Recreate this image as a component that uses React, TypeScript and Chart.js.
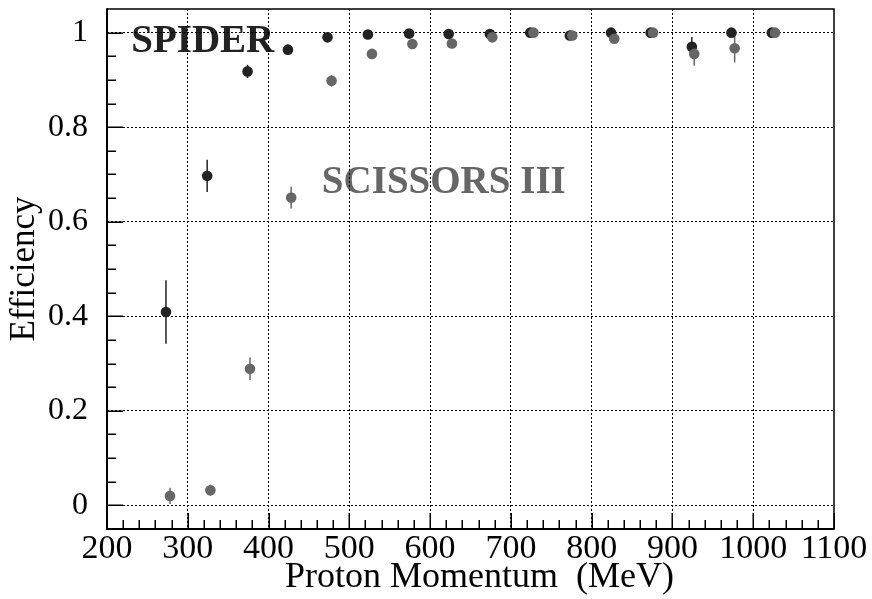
import React, { useEffect, useRef } from "react";
import { Chart, registerables } from "chart.js";

Chart.register(...registerables);

// Track-finding efficiency versus proton momentum for two reconstruction algorithms.
const SPIDER_MOMENTUM = [273, 324, 374, 424, 473, 523, 574, 623, 674, 724, 773, 824, 873, 924, 973, 1023];
const SPIDER_EFF = [0.409, 0.697, 0.918, 0.964, 0.99, 0.996, 0.998, 0.997, 0.997, 1.0, 0.994, 1.0, 1.0, 0.97, 1.0, 1.0];
const SPIDER_ERR = [0.067, 0.034, 0.014, 0.004, 0.004, 0.003, 0.002, 0.002, 0.002, 0.0, 0.003, 0.0, 0.0, 0.021, 0.0, 0.0];

const SCISSORS_MOMENTUM = [278, 328, 377, 428, 478, 528, 578, 627, 677, 728, 776, 828, 876, 927, 977, 1027];
const SCISSORS_EFF = [0.02, 0.032, 0.289, 0.651, 0.898, 0.955, 0.976, 0.977, 0.99, 1.0, 0.994, 0.987, 1.0, 0.955, 0.967, 1.0];
const SCISSORS_ERR = [0.017, 0.012, 0.024, 0.023, 0.012, 0.006, 0.004, 0.004, 0.003, 0.0, 0.003, 0.005, 0.0, 0.025, 0.03, 0.0];

const X_TICKS = [200, 300, 400, 500, 600, 700, 800, 900, 1000, 1100];
const Y_TICKS = [0, 0.2, 0.4, 0.6, 0.8, 1];
const X_MINOR_STEP = 20;
const Y_MINOR_STEP = 0.05;
const X_MIN = 200;
const X_MAX = 1100;
const Y_MIN = -0.05;
const Y_MAX = 1.05;

const SERIES_NAMES = ["SPIDER", "SCISSORS III"];
// Text anchors in data coordinates (left edge, baseline).
const LABEL_X = [230, 466];
const LABEL_Y = [0.958, 0.66];

const DARK = "#222222";
const GRAY = "#666666";
const SERIF = "'Liberation Serif', 'Times New Roman', Times, serif";

const seriesText = {
  id: "seriesText",
  beforeDraw(chart: any) {
    const { ctx, scales } = chart;
    const colors = [DARK, GRAY];
    ctx.save();
    ctx.font = `bold 39px ${SERIF}`;
    ctx.textAlign = "left";
    ctx.textBaseline = "alphabetic";
    SERIES_NAMES.forEach((name, i) => {
      ctx.fillStyle = colors[i];
      ctx.fillText(name, scales.x.getPixelForValue(LABEL_X[i]), scales.y.getPixelForValue(LABEL_Y[i]));
    });
    ctx.restore();
  },
};

const errorBars = {
  id: "errorBars",
  beforeDatasetsDraw(chart: any) {
    const { ctx, scales } = chart;
    const sets = [
      { xs: SPIDER_MOMENTUM, ys: SPIDER_EFF, es: SPIDER_ERR, color: DARK },
      { xs: SCISSORS_MOMENTUM, ys: SCISSORS_EFF, es: SCISSORS_ERR, color: GRAY },
    ];
    ctx.save();
    ctx.lineWidth = 1.5;
    sets.forEach((s) => {
      ctx.strokeStyle = s.color;
      s.xs.forEach((x, i) => {
        if (!s.es[i]) return;
        const px = scales.x.getPixelForValue(x);
        ctx.beginPath();
        ctx.moveTo(px, scales.y.getPixelForValue(s.ys[i] - s.es[i]));
        ctx.lineTo(px, scales.y.getPixelForValue(s.ys[i] + s.es[i]));
        ctx.stroke();
      });
    });
    ctx.restore();
  },
};

const frameAndTicks = {
  id: "frameAndTicks",
  afterDraw(chart: any) {
    const { ctx, chartArea: a, scales } = chart;
    const { left, right, top, bottom } = a;
    ctx.save();
    ctx.strokeStyle = "#000";
    ctx.lineWidth = 1.5;
    ctx.beginPath();
    ctx.moveTo(left, top);
    ctx.lineTo(right, top);
    ctx.lineTo(right, bottom);
    ctx.stroke();
    ctx.lineWidth = 2;
    ctx.beginPath();
    ctx.moveTo(left, top - 0.75);
    ctx.lineTo(left, bottom);
    ctx.lineTo(right + 0.75, bottom);
    ctx.stroke();

    ctx.lineWidth = 1.5;
    ctx.beginPath();
    for (let v = X_MIN; v <= X_MAX + 1e-6; v += X_MINOR_STEP) {
      const major = X_TICKS.some((t) => Math.abs(t - v) < 1e-6);
      const px = Math.round(scales.x.getPixelForValue(v)) + 0.25;
      ctx.moveTo(px, bottom);
      ctx.lineTo(px, bottom - (major ? 16 : 9));
    }
    for (let k = 1; Y_MIN + k * Y_MINOR_STEP < Y_MAX - 1e-6; k++) {
      const v = Y_MIN + k * Y_MINOR_STEP;
      const major = Y_TICKS.some((t) => Math.abs(t - v) < 1e-6);
      const py = Math.round(scales.y.getPixelForValue(v)) + 0.25;
      ctx.moveTo(left, py);
      ctx.lineTo(left + (major ? 16 : 9), py);
    }
    ctx.stroke();
    ctx.restore();
  },
};

export default function App() {
  const canvasRef = useRef<HTMLCanvasElement | null>(null);

  useEffect(() => {
    if (!canvasRef.current) return;
    const toPoints = (xs: number[], ys: number[]) => xs.map((x, i) => ({ x, y: ys[i] }));
    const gridColor = (edgeValues: number[]) => (c: any) =>
      c.tick && edgeValues.some((v) => Math.abs(v - c.tick.value) < 1e-6) ? "rgba(0,0,0,0)" : "#000";
    // Fixed axis sizes so the plot frame lands at the same place regardless of label sizes.
    const fixSize = (size: { width?: number; height?: number }) => (scale: any) => {
      if (size.width !== undefined) scale.width = size.width;
      if (size.height !== undefined) scale.height = size.height;
      scale.paddingTop = 0;
      scale.paddingBottom = 0;
      scale.paddingLeft = 0;
      scale.paddingRight = 0;
    };

    const chart = new Chart(canvasRef.current, {
      type: "scatter",
      data: {
        datasets: [
          {
            label: SERIES_NAMES[0],
            data: toPoints(SPIDER_MOMENTUM, SPIDER_EFF),
            backgroundColor: DARK,
            borderColor: DARK,
            borderWidth: 0,
            pointRadius: 5.3,
            pointHoverRadius: 5.3,
            order: 1,
          },
          {
            label: SERIES_NAMES[1],
            data: toPoints(SCISSORS_MOMENTUM, SCISSORS_EFF),
            backgroundColor: GRAY,
            borderColor: GRAY,
            borderWidth: 0,
            pointRadius: 5.3,
            pointHoverRadius: 5.3,
            order: 0,
          },
        ],
      },
      options: {
        responsive: false,
        animation: false,
        events: [],
        layout: { padding: { left: 0, top: 9, right: 38, bottom: 0 } },
        plugins: {
          legend: { display: false },
          tooltip: { enabled: false },
        },
        scales: {
          x: {
            type: "linear",
            min: X_MIN,
            max: X_MAX,
            afterBuildTicks: (scale: any) => {
              scale.ticks = X_TICKS.map((value) => ({ value }));
            },
            afterFit: fixSize({ height: 70 }),
            ticks: {
              color: "#000",
              padding: 0,
              maxRotation: 0,
              autoSkip: false,
              font: { family: SERIF, size: 34 },
              callback: (v: any) => String(v),
            },
            grid: {
              color: gridColor([X_MIN, X_MAX]),
              lineWidth: 1,
              drawTicks: false,
              borderDash: [2, 2],
            } as any,
            border: { display: false, dash: [2, 2] } as any,
            title: {
              display: true,
              text: "\u2002Proton Momentum  (MeV)",
              color: "#000",
              font: { family: SERIF, size: 36 },
              padding: { top: 0, bottom: 0 },
            },
          },
          y: {
            type: "linear",
            min: Y_MIN,
            max: Y_MAX,
            afterBuildTicks: (scale: any) => {
              scale.ticks = Y_TICKS.map((value) => ({ value }));
            },
            afterFit: fixSize({ width: 107 }),
            ticks: {
              color: "#000",
              padding: 19,
              autoSkip: false,
              font: { family: SERIF, size: 32 },
              callback: (v: any) => String(Math.round(Number(v) * 10) / 10),
            },
            grid: {
              color: gridColor([Y_MIN, Y_MAX]),
              lineWidth: 1,
              drawTicks: false,
              borderDash: [2, 2],
            } as any,
            border: { display: false, dash: [2, 2] } as any,
            title: {
              display: true,
              text: "Efficiency",
              color: "#000",
              font: { family: SERIF, size: 35 },
              padding: { top: 4, bottom: 0 },
            },
          },
        },
      },
      plugins: [seriesText, errorBars, frameAndTicks],
    });
    return () => chart.destroy();
  }, []);

  return (
    <div style={{ position: "fixed", left: 0, top: 0, width: 872, height: 599, background: "#fff" }}>
      <canvas ref={canvasRef} width={872} height={599} />
    </div>
  );
}
